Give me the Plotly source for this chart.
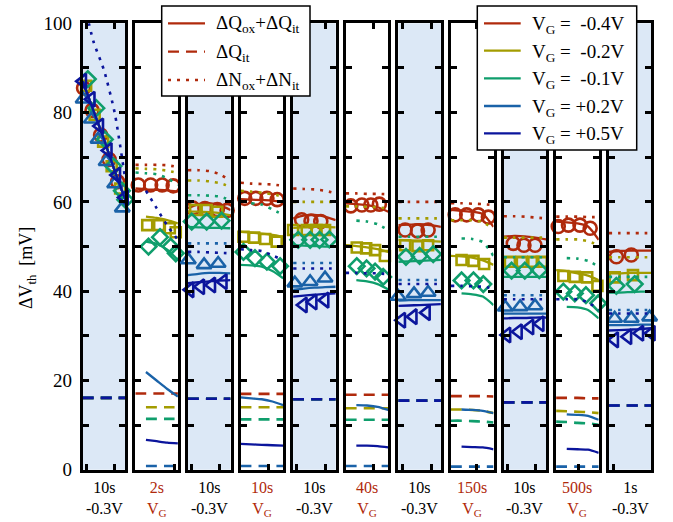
import plotly.graph_objects as go

# ---------------- data ----------------
# relative (log) time position inside each panel for the model curves
T_LINE = [0.0, 0.25, 0.5, 0.75, 1.0]

phase_time = ["10s", "2s", "10s", "10s", "10s", "40s", "10s", "150s", "10s", "500s", "1s"]
phase_bias = ["-0.3V", "V<sub>G</sub>", "-0.3V", "V<sub>G</sub>", "-0.3V", "V<sub>G</sub>",
              "-0.3V", "V<sub>G</sub>", "-0.3V", "V<sub>G</sub>", "-0.3V"]
is_stress = [False, True, False, True, False, True, False, True, False, True, False]

series_names = ["V<sub>G</sub> = \u00a0-0.4V", "V<sub>G</sub> = \u00a0-0.2V", "V<sub>G</sub> = \u00a0-0.1V",
                "V<sub>G</sub> = +0.2V", "V<sub>G</sub> = +0.5V"]
legend_styles = ["\u0394Q<sub>ox</sub>+\u0394Q<sub>it</sub>", "\u0394Q<sub>it</sub>",
                 "\u0394N<sub>ox</sub>+\u0394N<sub>it</sub>"]

# ---- V_G = -0.4 V (circles)
red_mk_t = [[0.02, 0.22, 0.42, 0.62, 0.82], [0.07, 0.36, 0.63, 0.89], [0.12, 0.40, 0.69, 0.92],
            [0.10, 0.36, 0.62, 0.86], [0.20, 0.42, 0.65], [0.12, 0.38, 0.59, 0.79], [0.16, 0.45, 0.70],
            [0.10, 0.37, 0.64, 0.88], [0.23, 0.48, 0.74], [0.05, 0.29, 0.56, 0.80], [0.18, 0.53]]
red_mk_v = [[85.5, 80.5, 75.0, 69.5, 64.5], [63.8, 63.8, 63.8, 63.6], [58.6, 58.5, 58.3, 58.1],
            [60.8, 60.8, 60.8, 60.5], [56.0, 55.7, 55.6], [59.1, 59.3, 59.3, 59.5], [53.7, 53.5, 53.7],
            [57.1, 57.1, 57.1, 56.6], [50.7, 50.3, 50.3], [54.5, 54.8, 54.8, 54.1], [47.7, 48.1]]
red_solid = [[87, 80.5, 74, 67, 60.5], [63.0, 62.8, 62.7, 62.6, 62.3], [58.6, 59.5, 59.7, 59.2, 58.2],
             [60.6, 60.5, 60.4, 60.3, 60.0], [56.3, 56.9, 57.1, 56.7, 55.9], [59.7, 59.5, 59.3, 58.8, 57.8],
             [54.8, 54.9, 55.0, 54.8, 54.4], [58.2, 58.0, 57.8, 57.3, 54.4], [52.2, 52.4, 52.3, 52.0, 51.6],
             [55.6, 55.4, 55.2, 54.5, 51.5], [48.8, 49.0, 49.1, 49.1, 49.1]]
red_dot = [None, [68.3, 68.3, 68.3, 68.2, 67.8], [67.1, 67.1, 66.9, 66.2, 64.7],
           [64.3, 64.1, 64.0, 63.9, 63.6], [63.0, 62.9, 62.8, 62.5, 61.9], [61.9, 61.9, 61.8, 61.8, 61.7],
           [60.0, 60.0, 60.0, 60.0, 60.0], [59.7, 59.7, 59.6, 59.5, 59.3], [56.8, 56.8, 56.7, 56.5, 56.3],
           [56.7, 56.7, 56.7, 56.6, 56.6], [53.0, 53.0, 53.0, 53.0, 53.0]]
red_dash = [[16.1, 16.1, 16.1, 16.1, 16.1], [17.1, 17.1, 17.1, 17.1, 17.1], [15.9, 15.9, 15.9, 15.9, 15.9],
            [17.0, 17.0, 17.0, 17.0, 17.0], [15.8, 15.8, 15.8, 15.8, 15.8], [16.8, 16.8, 16.8, 16.8, 16.8],
            [15.5, 15.5, 15.5, 15.5, 15.5], [16.5, 16.5, 16.5, 16.5, 16.4], [15.1, 15.1, 15.1, 15.1, 15.1],
            [16.1, 16.1, 16.1, 16.0, 16.0], [14.4, 14.4, 14.4, 14.4, 14.4]]

# ---- V_G = -0.2 V (squares)
ol_mk_t = [[0.08, 0.28, 0.48, 0.68, 0.88], [0.28, 0.56, 0.81, 0.95], [0.17, 0.44, 0.69],
           [0.07, 0.32, 0.58, 0.85], [0.0, 0.32, 0.55, 0.75], [0.26, 0.48, 0.69, 0.92], [0.16, 0.45, 0.70],
           [0.25, 0.53, 0.78], [0.15, 0.43, 0.70, 0.90], [0.17, 0.44, 0.73, 0.97], [0.14, 0.57]]
ol_mk_v = [[86.0, 79.5, 73.5, 68.0, 63.0], [54.8, 54.8, 54.1, 53.2], [58.2, 58.2, 57.8],
           [52.2, 52.0, 51.7, 51.1], [53.7, 53.7, 53.7, 53.7], [49.8, 49.6, 49.2, 47.9], [50.3, 50.1, 50.3],
           [47.0, 46.8, 46.1], [46.6, 46.6, 46.6, 46.6], [43.4, 43.2, 43.1, 41.2], [43.1, 43.6]]
ol_solid = [[87, 80.5, 74, 67, 60.5], [None, 56.7, 56.4, 55.9, 55.2], [57.8, 57.8, 57.7, 57.5, 57.0],
            [53.3, 53.1, 52.9, 52.6, 52.2], [54.2, 54.3, 54.4, 54.4, 54.3], [50.3, 50.1, 49.8, 49.4, 48.8],
            [51.5, 51.4, 51.3, 51.2, 51.1], [47.9, 47.8, 47.5, 46.9, 45.9], [47.6, 47.6, 47.6, 47.6, 47.6],
            [44.7, 44.5, 44.0, 43.5, 42.5], [44.0, 44.0, 44.1, 44.1, 44.1]]
ol_dot = [None, [67.5, 67.4, 67.3, 67.0, 66.5], [64.8, 64.8, 64.6, 64.2, 63.4],
          [62.5, 62.3, 62.1, 61.7, 61.2], [60.0, 60.0, 60.0, 60.0, 60.0], [59.0, 59.0, 58.9, 58.8, 58.5],
          [56.3, 56.3, 56.3, 56.3, 56.3], [55.9, 55.9, 55.9, 55.5, 53.9], [52.0, 52.0, 52.0, 52.0, 52.0],
          [51.6, 51.6, 51.6, 51.2, 50.3], [47.6, 47.6, 47.6, 47.6, 47.6]]
ol_dash = [[16.1, 16.1, 16.1, 16.1, 16.1], [None, 14.0, 14.0, 14.0, 14.0], [15.9, 15.9, 15.9, 15.9, 15.9],
           [14.0, 14.0, 14.0, 14.0, 14.0], [15.8, 15.8, 15.8, 15.8, 15.8], [13.8, 13.8, 13.8, 13.8, 13.8],
           [15.5, 15.5, 15.5, 15.5, 15.5], [13.5, 13.5, 13.4, 13.2, 12.7], [15.1, 15.1, 15.1, 15.1, 15.1],
           [13.2, 13.1, 13.0, 12.9, 12.7], [14.4, 14.4, 14.4, 14.4, 14.4]]

# ---- V_G = -0.1 V (diamonds)
gr_mk_t = [[0.12, 0.32, 0.52, 0.72, 0.92, 1.0], [0.31, 0.58, 0.83, 0.95], [0.09, 0.44, 0.79],
           [0.07, 0.34, 0.62, 0.93], [0.12, 0.40, 0.62, 0.85], [0.26, 0.49, 0.69, 0.88], [0.18, 0.50, 0.82],
           [0.25, 0.53, 0.76], [0.19, 0.50, 0.84], [0.17, 0.44, 0.70, 0.99], [0.18, 0.61]]
gr_mk_v = [[87.5, 81.0, 74.0, 68.0, 62.5, 60.5], [50.0, 52.1, 50.0, 48.5], [55.6, 55.6, 55.8],
           [48.8, 47.4, 46.6, 45.6], [51.5, 51.5, 51.5, 51.6], [45.6, 45.1, 44.4, 43.2], [47.7, 47.9, 48.3],
           [42.4, 42.4, 41.6], [44.6, 44.6, 44.7], [39.9, 39.5, 39.1, 37.3], [41.2, 41.6]]
gr_solid = [[87, 80.5, 74, 67, 60.5], [None, 51.1, 50.6, 49.3, 47.0], [54.4, 54.3, 54.2, 54.2, 54.1],
            [45.9, 45.8, 45.5, 44.5, 42.9], [50.3, 50.2, 50.1, 50.0, 50.0], [None, 42.5, 42.2, 41.6, 40.4],
            [46.6, 46.7, 46.8, 46.9, 47.0], [None, 39.5, 39.3, 38.8, 36.9], [43.2, 43.2, 43.2, 43.2, 43.2],
            [None, 36.5, 36.4, 35.8, 33.9], [39.7, 39.7, 39.8, 39.9, 39.9]]
gr_dot = [None, [66.6, 66.4, 66.2, 65.3, 63.8], [61.5, 61.5, 61.4, 61.2, 60.4],
          [None, 59.7, 59.4, 58.3, 57.1], None, [None, 55.8, 55.6, 55.0, 53.7],
          [52.2, 52.2, 52.2, 52.2, 52.2], [None, 51.8, 51.7, 51.0, 47.9], [47.6, 47.6, 47.6, 47.6, 47.6],
          [None, 47.4, 47.3, 46.8, 45.5], [43.2, 43.2, 43.2, 43.2, 43.2]]
gr_dash = [[16.1, 16.1, 16.1, 16.1, 16.1], [None, 11.4, 11.4, 11.4, 11.4], [15.9, 15.9, 15.9, 15.9, 15.9],
           [11.3, 11.3, 11.3, 11.3, 11.3], [15.8, 15.8, 15.8, 15.8, 15.8], [11.2, 11.2, 11.2, 11.2, 11.2],
           [15.5, 15.5, 15.5, 15.5, 15.5], [11.0, 11.0, 10.9, 10.8, 10.6], [15.1, 15.1, 15.1, 15.1, 15.1],
           [10.8, 10.7, 10.5, 10.4, 10.1], [14.4, 14.4, 14.4, 14.4, 14.4]]

# ---- V_G = +0.2 V (triangles up)
bl_mk_t = [[0.01, 0.20, 0.36, 0.55, 0.75, 0.93], None, [0.01, 0.38, 0.71], None, [0.04, 0.40, 0.75],
           None, [0.0, 0.37, 0.70], None, [0.04, 0.39, 0.74], None, [0.14, 0.53, 0.96]]
bl_mk_v = [[83.0, 78.5, 74.0, 69.0, 64.0, 58.6], None, [47.0, 45.9, 46.2], None, [41.8, 42.1, 42.9],
           None, [38.8, 39.4, 39.7], None, [36.4, 36.5, 36.7], None, [33.9, 33.9, 34.2]]
bl_solid = [[87, 80.5, 74, 67, 60.5], [None, 21.9, 20.0, 18.1, 16.4], [43.6, 43.9, 44.1, 44.1, 44.0],
            [16.2, 16.0, 15.8, 15.3, 14.5], [40.3, 40.6, 40.8, 40.9, 41.0], [None, 14.5, 14.4, 14.1, 13.4],
            [37.9, 38.0, 38.0, 38.0, 38.0], [None, 13.5, 13.4, 13.2, 12.7], [35.0, 35.0, 35.0, 35.0, 35.0],
            [None, 12.4, 12.3, 12.1, 11.2], [32.4, 32.4, 32.4, 32.5, 32.5]]
bl_dot = [None, None, [50.7, 50.7, 50.7, 50.7, 50.7], None, [46.3, 46.3, 46.3, 46.3, 46.3], None,
          [42.5, 42.5, 42.5, 42.5, 42.5], None, [39.1, 39.1, 39.1, 39.1, 39.1], None,
          [35.8, 35.8, 35.8, 35.8, 35.8]]
bl_dash = [[16.1, 16.1, 16.1, 16.1, 16.1], [None, 0.85, 0.85, 0.85, 0.85], [15.9, 15.9, 15.9, 15.9, 15.9],
           [0.85, 0.85, 0.85, 0.85, 0.85], [15.8, 15.8, 15.8, 15.8, 15.8], [0.85, 0.85, 0.85, 0.85, 0.85],
           [15.5, 15.5, 15.5, 15.5, 15.5], [0.7, 0.7, 0.7, 0.7, 0.7], [15.1, 15.1, 15.1, 15.1, 15.1],
           [0.7, 0.7, 0.7, 0.7, 0.7], [14.4, 14.4, 14.4, 14.4, 14.4]]

# ---- V_G = +0.5 V (triangles left)
db_mk_t = [[0.0, 0.2, 0.4, 0.6, 0.8, 0.98], None, [0.05, 0.30, 0.56, 0.83], None, [-0.03, 0.24, 0.47, 0.75],
           None, [0.08, 0.35, 0.66], None, [0.08, 0.35, 0.62, 0.86], None, [0.14, 0.45, 0.73, 1.0]]
db_mk_v = [[87.0, 83.0, 77.0, 71.5, 66.0, 61.0], None, [40.3, 41.0, 41.4, 42.1], None, [36.5, 36.9, 37.6, 38.0],
           None, [33.5, 34.3, 35.2], None, [30.2, 30.9, 32.0, 32.7], None, [29.1, 29.8, 30.6, 30.6]]
db_solid = [[87, 80.5, 74, 67, 60.5], [None, 6.7, 6.4, 6.1, 5.9], [41.8, 42.0, 42.2, 42.4, 42.5],
            [5.8, 5.7, 5.6, 5.5, 5.4], [38.8, 39.0, 39.2, 39.4, 39.5], [None, 5.4, 5.4, 5.3, 5.0],
            [36.7, 36.8, 36.9, 37.0, 37.1], [None, 5.2, 5.1, 5.0, 4.6], [33.9, 34.0, 34.0, 34.1, 34.1],
            [None, 4.7, 4.6, 4.5, 3.8], [31.2, 31.3, 31.4, 31.5, 31.7]]
db_dot = [[106, 96, 89.5, 80, 65], [None, 62.5, 58.6, 54.7, 51.5], [48.8, 48.8, 48.7, 48.6, 48.5],
          [49.4, 49.2, 49.0, 48.0, 47.0], [45.1, 45.1, 45.1, 45.1, 45.1], [44.1, 44.1, 44.0, 44.0, 43.8],
          [41.6, 41.6, 41.6, 41.6, 41.6], [41.2, 41.2, 41.1, 41.0, 40.6], [38.2, 38.2, 38.2, 38.2, 38.2],
          [38.2, 38.2, 38.2, 37.5, 35.8], [35.0, 35.0, 35.0, 35.0, 35.0]]
db_dash = [[16.1, 16.1, 16.1, 16.1, 16.1], None, [15.9, 15.9, 15.9, 15.9, 15.9], None,
           [15.8, 15.8, 15.8, 15.8, 15.8], None, [15.5, 15.5, 15.5, 15.5, 15.5], None,
           [15.1, 15.1, 15.1, 15.1, 15.1], None, [14.4, 14.4, 14.4, 14.4, 14.4]]

# decade tick positions inside every panel (relative)
panel_ticks = [[0.09, 0.74], [0.92], [0.09, 0.74], [0.65], [0.09, 0.75], [0.66], [0.09, 0.77],
               [0.59], [0.09, 0.76], [0.52], [0.12]]

# ---------------- styling / layout ----------------
W, H = 673, 522
RED = "#B02A0C"
COLORS = [RED, "#A39C00", "#0F9E6C", "#1A62A8", "#0B159C"]
SYMBOLS = ["circle-open", "square-open", "diamond-open", "triangle-up-open", "triangle-left-open"]
SIZES = [13, 10, 12, 13, 13]
SHADE = "#DCE8F6"
FONT = "Liberation Serif"

P_L0, P_STEP, P_W = 82.7, 52.6, 42.6
Y_TOP, Y_BOT = 23.3, 469.8


def px(x):
    return x / W


def py(y):
    return 1 - y / H


series = [
    (red_mk_t, red_mk_v, red_solid, red_dot, red_dash),
    (ol_mk_t, ol_mk_v, ol_solid, ol_dot, ol_dash),
    (gr_mk_t, gr_mk_v, gr_solid, gr_dot, gr_dash),
    (bl_mk_t, bl_mk_v, bl_solid, bl_dot, bl_dash),
    (db_mk_t, db_mk_v, db_solid, db_dot, db_dash),
]

fig = go.Figure()
n_panels = len(phase_time)


def ax(i):
    return ("x" if i == 0 else f"x{i + 1}"), ("y" if i == 0 else f"y{i + 1}")


DOT = "3px,6px"
DASH = "11px,7px"

for s, (mk_t, mk_v, solid, dot, dash) in enumerate(series):
    col = COLORS[s]
    for i in range(n_panels):
        xa, ya = ax(i)
        for vals, dstyle, w in ((dash[i], DASH, 2.6), (dot[i], DOT, 2.6), (solid[i], "solid", 2.3)):
            if vals is None:
                continue
            fig.add_trace(go.Scatter(x=T_LINE, y=vals, xaxis=xa, yaxis=ya, mode="lines",
                                     line=dict(color=col, width=w, dash=dstyle, shape="spline",
                                               smoothing=0.6),
                                     hoverinfo="skip"))
        if mk_t[i] is not None:
            fig.add_trace(go.Scatter(x=mk_t[i], y=mk_v[i], xaxis=xa, yaxis=ya, mode="markers",
                                     marker=dict(symbol=SYMBOLS[s], size=SIZES[s], color=col,
                                                 line=dict(color=col, width=2.6)),
                                     cliponaxis=False, hoverinfo="skip"))

layout = dict(width=W, height=H, margin=dict(l=0, r=0, t=0, b=0, autoexpand=False), showlegend=False,
              paper_bgcolor="white", plot_bgcolor="rgba(0,0,0,0)",
              font=dict(family=FONT, size=19, color="black"))
shapes = []
annotations = []
ydom = [py(Y_BOT), py(Y_TOP)]
for i in range(n_panels):
    L = P_L0 + i * P_STEP
    xa, ya = ax(i)
    xkey = "xaxis" if i == 0 else f"xaxis{i + 1}"
    ykey = "yaxis" if i == 0 else f"yaxis{i + 1}"
    layout[xkey] = dict(domain=[px(L), px(L + P_W)], range=[0, 1], anchor=ya, showgrid=False,
                        zeroline=False, showline=True, linecolor="black", linewidth=3, mirror="ticks",
                        ticks="inside", ticklen=6, tickwidth=2.5, tickcolor="black", automargin=False,
                        tickvals=panel_ticks[i], showticklabels=False, fixedrange=True)
    layout[ykey] = dict(domain=ydom, range=[0, 100], anchor=xa, showgrid=False, zeroline=False,
                        showline=True, linecolor="black", linewidth=3, mirror="ticks",
                        ticks="inside", ticklen=6, tickwidth=2.5, tickcolor="black", automargin=False,
                        tickmode="linear", tick0=0, dtick=20,
                        minor=dict(ticks="inside", dtick=10, ticklen=6, tickwidth=2.5, tickcolor="black",
                                   showgrid=False),
                        showticklabels=(i == 0), tickfont=dict(family=FONT, size=19),
                        ticklabelstandoff=4, fixedrange=True)
    if not is_stress[i]:
        shapes.append(dict(type="rect", xref=f"{xa} domain", yref=f"{ya} domain", x0=0, x1=1, y0=0, y1=1,
                           fillcolor=SHADE, line=dict(width=0), layer="below"))
    lab_col = RED if is_stress[i] else "black"
    annotations.append(dict(text=phase_time[i] + "<br>" + phase_bias[i], xref=f"{xa} domain", yref="paper",
                            x=0.5, y=py(477), showarrow=False, xanchor="center", yanchor="top",
                            align="center", font=dict(family=FONT, size=16, color=lab_col)))

# y-axis title
annotations.append(dict(text="\u0394V<sub>th</sub>  [mV]", xref="paper", yref="paper", x=px(27), y=py(268),
                        showarrow=False, textangle=-90, xanchor="center", yanchor="middle",
                        font=dict(family=FONT, size=18)))

# legend 1 (line styles)
shapes.append(dict(type="rect", xref="paper", yref="paper", x0=px(161.7), x1=px(310), y0=py(96), y1=py(6),
                   fillcolor="white", line=dict(color="black", width=1.5), layer="above"))
for k, (lab, dstyle) in enumerate(zip(legend_styles, ["solid", DASH, DOT])):
    yy = [23.3, 51.7, 80.0][k]
    shapes.append(dict(type="line", xref="paper", yref="paper", x0=px(168), x1=px(205), y0=py(yy), y1=py(yy),
                       line=dict(color=RED, width=2.3, dash=dstyle), layer="above"))
    annotations.append(dict(text=lab, xref="paper", yref="paper", x=px(214), y=py(yy + 1), showarrow=False,
                            xanchor="left", yanchor="middle", font=dict(family=FONT, size=19)))

# legend 2 (gate voltages)
shapes.append(dict(type="rect", xref="paper", yref="paper", x0=px(477.3), x1=px(636.7), y0=py(150), y1=py(6),
                   fillcolor="white", line=dict(color="black", width=1.5), layer="above"))
for k, lab in enumerate(series_names):
    yy = [23.3, 50.7, 78.3, 106.0, 133.3][k]
    shapes.append(dict(type="line", xref="paper", yref="paper", x0=px(484), x1=px(520.7), y0=py(yy), y1=py(yy),
                       line=dict(color=COLORS[k], width=2.3), layer="above"))
    annotations.append(dict(text=lab, xref="paper", yref="paper", x=px(530), y=py(yy + 2), showarrow=False,
                            xanchor="left", yanchor="middle", font=dict(family=FONT, size=19)))

layout["shapes"] = shapes
layout["annotations"] = annotations
fig.update_layout(**layout)
fig.write_html("out.html", config={"displayModeBar": False},
               post_script="document.body.style.margin='0px';")
